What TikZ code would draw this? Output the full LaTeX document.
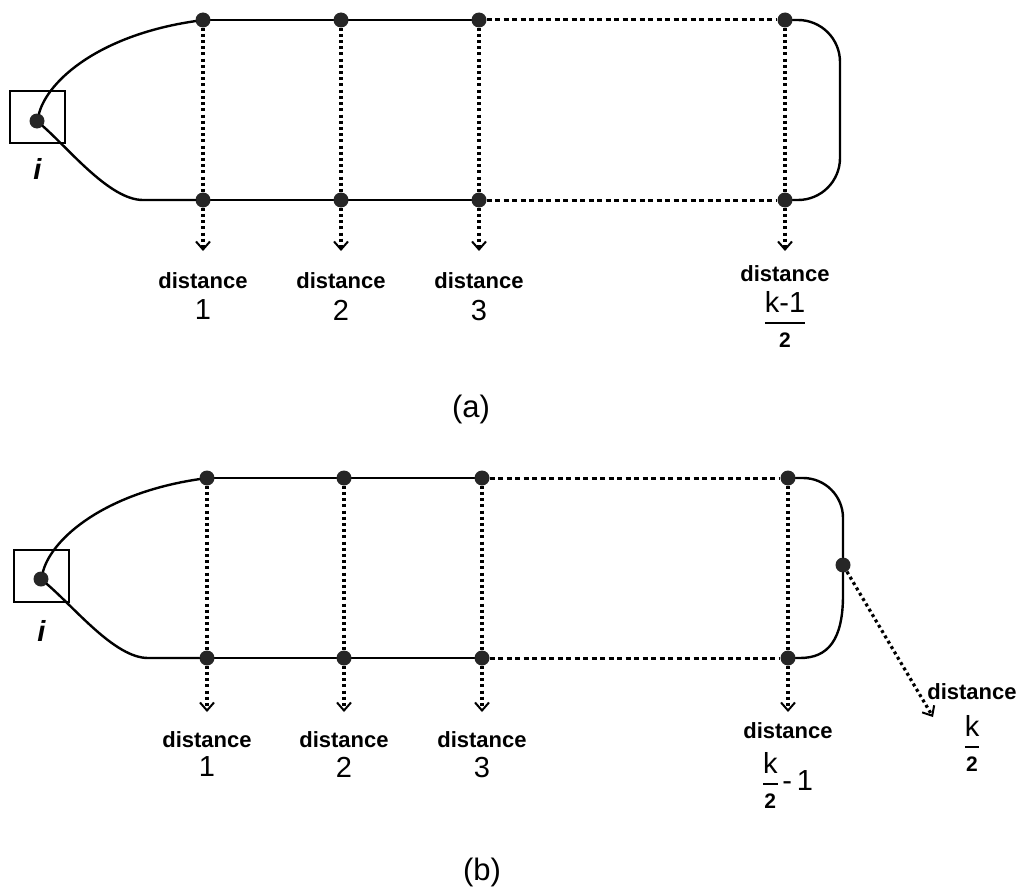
\documentclass[tikz,border=0pt]{standalone}
\usepackage{fontspec}
\setmainfont{Liberation Sans}
\usetikzlibrary{arrows.meta,positioning}

\setlength{\arrayrulewidth}{2pt}
\newcommand{\fracbox}[2]{\begin{tabular}{@{}c@{}}#1\\\hline\noalign{\vskip1pt}{\fontsize{21}{22}\selectfont\bfseries #2}\end{tabular}}

\begin{document}
\begin{tikzpicture}[x=1pt, y=-1pt, line cap=round,
  walk/.style={line width=2.4pt},
  skip/.style={line width=3pt, line cap=butt, dash pattern=on 5pt off 3.5pt},
  probe/.style={line width=3.2pt, line cap=butt, dash pattern=on 3pt off 3.2pt},
  probearrow/.style={probe, -{Straight Barb[length=8pt, width=14pt, line width=2pt]}},
  vtx/.style={circle, fill=black!85, inner sep=0pt, minimum size=15pt},
  homebox/.style={draw, line width=2.4pt, inner sep=0pt},
  lbl/.style={font=\fontsize{22}{24}\selectfont\bfseries, inner sep=0pt},
  val/.style={font=\fontsize{29}{32}\selectfont, inner sep=0pt},
  panelcap/.style={font=\fontsize{31}{33}\selectfont, inner sep=0pt}]
  \useasboundingbox (0,0) rectangle (1023,891);

  % ---------- (a) ----------
  \node[homebox, minimum width=55pt, minimum height=52pt] (aBox) at (37.5,117) {};
  \node[vtx] (aS) at (37,121) {};
  \node[font=\fontsize{29}{30}\selectfont\bfseries\itshape, inner sep=0pt, below=14pt of aBox] (aI) {i};
  \foreach \n/\x in {1/203,2/341,3/479,4/785}{
    \node[vtx] (aT\n) at (\x,20) {};
    \node[vtx] (aB\n) at (\x,200) {};
    \coordinate (aA\n) at (\x,251);
    \draw[probe] (aT\n) -- (aB\n);
    \draw[probearrow] (aB\n) -- (aA\n);
  }
  % walk round the cycle
  \draw[walk] (aS) .. controls (48,80) and (100,35) .. (aT1);
  \draw[walk] (aS) .. controls (70,150) and (110,200) .. (143,200) -- (aB1);
  \draw[walk] (aT1) -- (aT2) -- (aT3);
  \draw[walk] (aB1) -- (aB2) -- (aB3);
  \draw[skip] (aT3) -- (aT4);
  \draw[skip] (aB3) -- (aB4);
  \draw[walk, rounded corners=42pt] (aT4) -- (840,20) -- (840,200) -- (aB4);
  % labels
  \foreach \n in {1,2,3}{
    \node[lbl, below=21pt of aA\n] (aD\n) {distance};
    \node[val, below=11pt of aD\n] (aV\n) {\n};
  }
  \node[lbl, below=14pt of aA4] (aD4) {distance};
  \node[val, below=8pt of aD4] (aV4) {\fracbox{k-1}{2}};
  \node[panelcap] (aCap) at (471,409) {(a)};

  % ---------- (b) ----------
  \node[homebox, minimum width=55pt, minimum height=52pt] (bBox) at (41.5,576) {};
  \node[vtx] (bS) at (41,579) {};
  \node[font=\fontsize{29}{30}\selectfont\bfseries\itshape, inner sep=0pt, below=17pt of bBox] (bI) {i};
  \foreach \n/\x in {1/207,2/344,3/482,4/788}{
    \node[vtx] (bT\n) at (\x,478) {};
    \node[vtx] (bB\n) at (\x,658) {};
    \coordinate (bA\n) at (\x,712);
    \draw[probe] (bT\n) -- (bB\n);
    \draw[probearrow] (bB\n) -- (bA\n);
  }
  \node[vtx] (bR) at (843,565) {};
  \coordinate (bAR) at (933,717);
  \draw[probearrow] (bR) -- (bAR);
  % walk round the cycle
  \draw[walk] (bS) .. controls (52,538) and (105,493) .. (bT1);
  \draw[walk] (bS) .. controls (75,608) and (115,658) .. (148,658) -- (bB1);
  \draw[walk] (bT1) -- (bT2) -- (bT3);
  \draw[walk] (bB1) -- (bB2) -- (bB3);
  \draw[skip] (bT3) -- (bT4);
  \draw[skip] (bB3) -- (bB4);
  \draw[walk, rounded corners=40pt] (bT4) -- (843,478) -- (bR);
  \draw[walk] (bR) -- (843,595) .. controls (843,640) and (828,658) .. (800,658) -- (bB4);
  % labels
  \foreach \n in {1,2,3}{
    \node[lbl, below=19pt of bA\n] (bD\n) {distance};
    \node[val, below=9pt of bD\n] (bV\n) {\n};
  }
  \node[lbl, below=10pt of bA4] (bD4) {distance};
  \node[val, below=12pt of bD4] (bV4) {\fracbox{k}{2}\,-\,1};
  \node[lbl] (bDR) at (972,692) {distance};
  \node[val, below=14pt of bDR] (bVR) {\fracbox{k}{2}};
  \node[panelcap] (bCap) at (482,872) {(b)};
\end{tikzpicture}
\end{document}
